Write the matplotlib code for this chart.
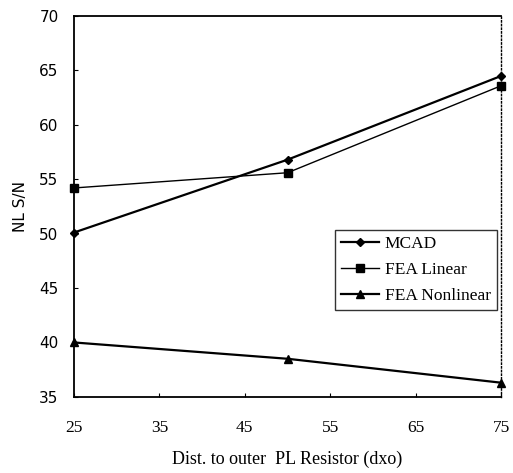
import matplotlib
matplotlib.use("Agg")
import matplotlib.pyplot as plt

x_vals = [25, 50, 75]
mcad = [50.1, 56.8, 64.5]
fea_linear = [54.2, 55.6, 63.6]
fea_nonlinear = [40.0, 38.5, 36.3]
x_ticks = [25, 35, 45, 55, 65, 75]
y_ticks = [35, 40, 45, 50, 55, 60, 65, 70]

fig = plt.figure(figsize=(5.13, 4.73), dpi=100)
ax = fig.add_axes([0.144, 0.161, 0.833, 0.805])

ax.plot(x_vals, mcad, color='black', lw=1.6, marker='D', ms=4, label='MCAD', clip_on=False)
ax.plot(x_vals, fea_linear, color='black', lw=1.0, marker='s', ms=5.5, label='FEA Linear', clip_on=False)
ax.plot(x_vals, fea_nonlinear, color='black', lw=1.6, marker='^', ms=6, label='FEA Nonlinear', clip_on=False)

ax.set_xlim(25, 75)
ax.set_ylim(35, 70)
ax.set_xticks(x_ticks)
ax.set_yticks(y_ticks)
ax.tick_params(direction='in', length=3, width=0.8)
ax.set_xticklabels([str(v) for v in x_ticks], fontfamily='Liberation Serif', fontsize=12.5)
ax.set_yticklabels([str(v) for v in y_ticks], fontfamily='DejaVu Sans', fontsize=11)
ax.tick_params(axis='y', pad=11)
ax.tick_params(axis='x', pad=17)

for s in ['top', 'bottom', 'left']:
    ax.spines[s].set_linewidth(1.3)
ax.spines['right'].set_linestyle(':')
ax.spines['right'].set_linewidth(1.0)

ax.set_xlabel('Dist. to outer  PL Resistor (dxo)', fontfamily='Liberation Serif', fontsize=13, labelpad=10)
ax.set_ylabel('NL S/N', fontfamily='DejaVu Sans', fontsize=11, labelpad=8)

leg = ax.legend(loc='upper left', bbox_to_anchor=((335 - 74) / 427, 1 - (230 - 16) / 381),
                prop={'family': 'Liberation Serif', 'size': 12.5}, frameon=True, fancybox=False,
                edgecolor='black', borderpad=0.35, handlelength=2.2, handletextpad=0.3,
                labelspacing=0.55, borderaxespad=0)
leg.get_frame().set_linewidth(1.0)

fig.savefig('out.png', dpi=100)
